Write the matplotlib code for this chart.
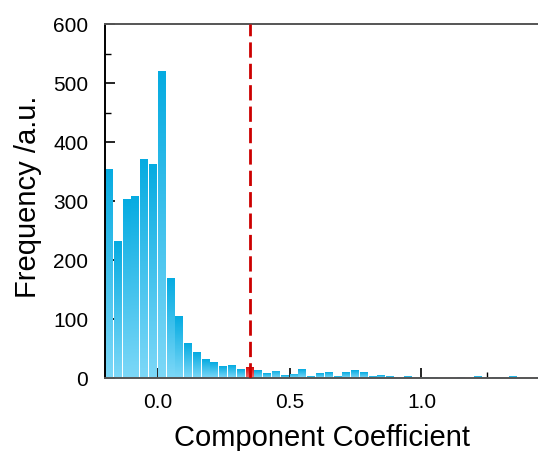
import numpy as np
import matplotlib
matplotlib.use("Agg")
import matplotlib.pyplot as plt
from matplotlib.colors import LinearSegmentedColormap
from matplotlib.ticker import MultipleLocator

plt.rcParams['font.family'] = ['Liberation Sans', 'DejaVu Sans']

# Histogram data: bin start edges (width 1/30) and counts
bin_start = -0.2
bin_width = 1 / 30
counts = [355, 232, 304, 309, 372, 362, 520, 170, 105, 59, 44, 32, 27, 20, 22, 15,
          19, 13, 8, 12, 5, 7, 15, 3, 8, 10, 3, 10, 13, 10, 3, 5,
          3, 0, 3, 0, 1.5, 1.5, 0, 0, 1.5, 0, 3, 0, 1.5, 0, 3, 0, 0, 1.5]
highlight_index = 16
threshold = 0.35
xticks = [0.0, 0.5, 1.0]
yticks = [0, 100, 200, 300, 400, 500, 600]

fig = plt.figure(figsize=(5.38, 4.52), dpi=100)
ax = fig.add_axes([105 / 538, 1 - 379 / 452, 433 / 538, 354 / 452])

blue_cmap = LinearSegmentedColormap.from_list("b", ["#7DD8F8", "#05ABE1"])
red_cmap = LinearSegmentedColormap.from_list("r", ["#F07070", "#D20000"])
grad = np.linspace(0, 1, 256).reshape(-1, 1)

lefts = [bin_start + i * bin_width for i in range(len(counts))]
bars = ax.bar(lefts, counts, width=bin_width * 0.88, align='edge',
              color='none', edgecolor='none')
for i, (b, h) in enumerate(zip(bars, counts)):
    if h <= 0:
        continue
    x0 = b.get_x()
    w = b.get_width()
    cmap = red_cmap if i == highlight_index else blue_cmap
    im = ax.imshow(grad, cmap=cmap, origin='lower', aspect='auto',
                   extent=[x0, x0 + w, 0, h], zorder=2, interpolation='bilinear')
    im.set_clip_path(b)

ax.axvline(threshold, color='#CC0000', lw=2, linestyle=(0, (5.5, 2.2)), zorder=3)

ax.set_xlim(-0.2, 1.442)
ax.set_ylim(0, 600)
ax.set_xticks(xticks)
ax.set_xticklabels([f"{t:.1f}" for t in xticks])
ax.set_yticks(yticks)
ax.xaxis.set_minor_locator(MultipleLocator(0.25))
ax.yaxis.set_minor_locator(MultipleLocator(50))
ax.tick_params(which='major', direction='in', length=7, width=1.2, labelsize=15, color='black')
ax.tick_params(which='minor', direction='in', length=4, width=1.0, color='black')
ax.tick_params(axis='y', which='major', pad=12)
ax.tick_params(axis='x', which='major', pad=10)

ax.spines['right'].set_visible(False)
ax.spines['left'].set_color('black')
ax.spines['top'].set_color('#555555')
ax.spines['bottom'].set_color('#555555')
for s in ['left', 'top', 'bottom']:
    ax.spines[s].set_linewidth(1.4)

ax.set_xlabel('Component Coefficient', fontsize=21, labelpad=9)
ax.set_ylabel('Frequency /a.u.', fontsize=21)
ax.yaxis.set_label_coords(-0.146, 0.514)

fig.savefig('out.png', dpi=100)
